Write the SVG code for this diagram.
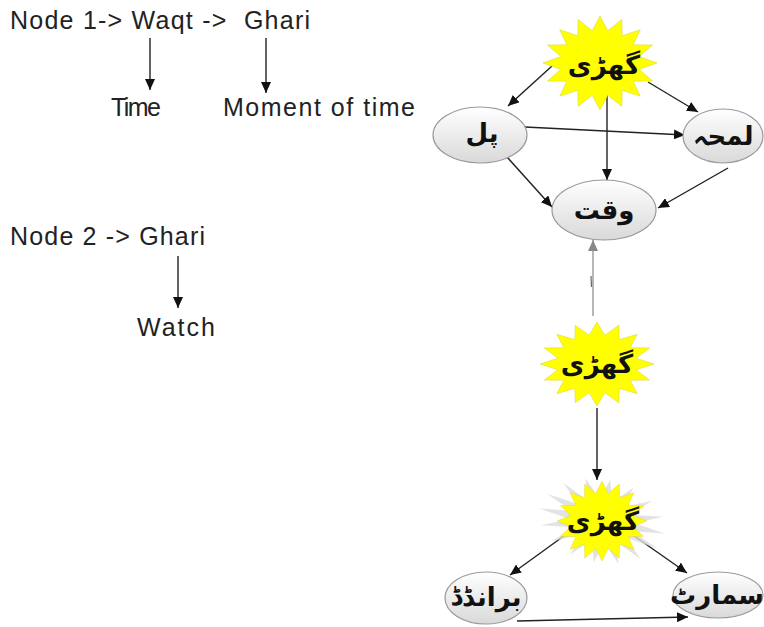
<svg xmlns="http://www.w3.org/2000/svg" xmlns:xlink="http://www.w3.org/1999/xlink" width="764" height="627" viewBox="0 0 764 627">
<style>
.lbl{font-family:"Liberation Sans","Arial",sans-serif;font-size:25px;fill:#222;white-space:pre}
.ur{font-family:"DejaVu Sans",sans-serif;font-weight:bold;font-size:26px;fill:#111;text-anchor:middle}
.node{fill:url(#eg);stroke:#9a9a9a;stroke-width:1.2}
.edge{stroke:#222;stroke-width:1.4;fill:none;marker-end:url(#ah)}
.star{fill:#ffff00;stroke:#d9d23a;stroke-width:1;vector-effect:non-scaling-stroke}
.glow{fill:#dcdcdc;opacity:0.8}
</style>
<defs>
<linearGradient id="eg" x1="0" y1="0" x2="0" y2="1">
<stop offset="0" stop-color="#ffffff"/>
<stop offset="1" stop-color="#d9d9d9"/>
</linearGradient>
<marker id="ah" markerUnits="userSpaceOnUse" markerWidth="12" markerHeight="10" refX="11" refY="5" orient="auto">
<path d="M0,0 L11,5 L0,10 Z" fill="#111"/>
</marker>
<marker id="ahg" markerUnits="userSpaceOnUse" markerWidth="12" markerHeight="10" refX="11" refY="5" orient="auto">
<path d="M0,0 L11,5 L0,10 Z" fill="#888"/>
</marker>
<polygon id="star" points="100,0 68.7,13.7 92.4,38.3 58.2,38.9 70.7,70.7 38.9,58.2 38.3,92.4 13.7,68.7 0,100 -13.7,68.7 -38.3,92.4 -38.9,58.2 -70.7,70.7 -58.2,38.9 -92.4,38.3 -68.7,13.7 -100,0 -68.7,-13.7 -92.4,-38.3 -58.2,-38.9 -70.7,-70.7 -38.9,-58.2 -38.3,-92.4 -13.7,-68.7 0,-100 13.7,-68.7 38.3,-92.4 38.9,-58.2 70.7,-70.7 58.2,-38.9 92.4,-38.3 68.7,-13.7"/>
<polygon id="rays" points="100,0 50,10 92.4,38.3 41.6,27.8 70.7,70.7 27.8,41.6 38.3,92.4 10,50 0,100 -10,50 -38.3,92.4 -27.8,41.6 -70.7,70.7 -41.6,27.8 -92.4,38.3 -50,10 -100,0 -50,-10 -92.4,-38.3 -41.6,-27.8 -70.7,-70.7 -27.8,-41.6 -38.3,-92.4 -10,-50 0,-100 10,-50 38.3,-92.4 27.8,-41.6 70.7,-70.7 41.6,-27.8 92.4,-38.3 50,-10"/>
</defs>
<rect width="764" height="627" fill="#ffffff"/>

<g id="legend">
<text class="lbl" x="10" y="29" textLength="300">Node 1-&gt; Waqt -&gt;  Ghari</text>
<text class="lbl" x="111" y="116" textLength="50">Time</text>
<text class="lbl" x="223" y="116" textLength="192">Moment of time</text>
<text class="lbl" x="10" y="245" textLength="195">Node 2 -&gt; Ghari</text>
<text class="lbl" x="137" y="336" textLength="78">Watch</text>
</g>

<g id="connectors">
<line class="edge" x1="150" y1="38" x2="150" y2="90"/>
<line class="edge" x1="266" y1="38" x2="266" y2="93"/>
<line class="edge" x1="178" y1="256" x2="178" y2="308"/>
<line class="edge" x1="552" y1="66" x2="508" y2="106"/>
<line class="edge" x1="648" y1="82" x2="698" y2="112"/>
<line class="edge" x1="607" y1="93" x2="607" y2="180"/>
<line class="edge" x1="525" y1="127" x2="685" y2="135"/>
<line class="edge" x1="507" y1="157" x2="552" y2="207"/>
<line class="edge" x1="728" y1="168" x2="658" y2="208"/>
<line x1="593" y1="316" x2="593" y2="240" stroke="#999" stroke-width="1.4" marker-end="url(#ahg)"/>
<line x1="591" y1="276" x2="591.5" y2="287" stroke="#666" stroke-width="1.2"/>
<line class="edge" x1="597" y1="408" x2="597" y2="480"/>
<line class="edge" x1="568" y1="533" x2="510" y2="575"/>
<line class="edge" x1="630" y1="533" x2="687" y2="573"/>
<line class="edge" x1="517" y1="621" x2="688" y2="617"/>
</g>

<g id="star-top">
<use xlink:href="#star" class="star" transform="translate(600,63) scale(0.57,0.47)"/>
<text class="ur" x="604" y="74">گھڑی</text>
</g>
<g id="node-pal">
<ellipse class="node" cx="480" cy="135" rx="47" ry="28"/>
<text class="ur" x="482" y="142">پل</text>
</g>
<g id="node-lamha">
<ellipse class="node" cx="723" cy="136" rx="40" ry="27"/>
<text class="ur" x="723" y="145">لمحہ</text>
</g>
<g id="node-waqt">
<ellipse class="node" cx="604" cy="210" rx="52" ry="30"/>
<text class="ur" x="604" y="219">وقت</text>
</g>
<g id="star-middle">
<use xlink:href="#star" class="star" transform="translate(597,364) scale(0.57,0.42)"/>
<text class="ur" x="597" y="373">گھڑی</text>
</g>
<g id="star-bottom">
<use xlink:href="#rays" class="glow" transform="translate(602,521) rotate(11.25) scale(0.64,0.42)"/>
<use xlink:href="#star" class="star" transform="translate(602,521) scale(0.45,0.40)"/>
<text class="ur" x="603" y="530">گھڑی</text>
</g>
<g id="node-branded">
<ellipse class="node" cx="486" cy="598" rx="41" ry="26"/>
<text class="ur" x="486" y="606">برانڈڈ</text>
</g>
<g id="node-smart">
<ellipse class="node" cx="718" cy="595" rx="45" ry="23"/>
<text class="ur" x="717" y="604">سمارٹ</text>
</g>
</svg>
